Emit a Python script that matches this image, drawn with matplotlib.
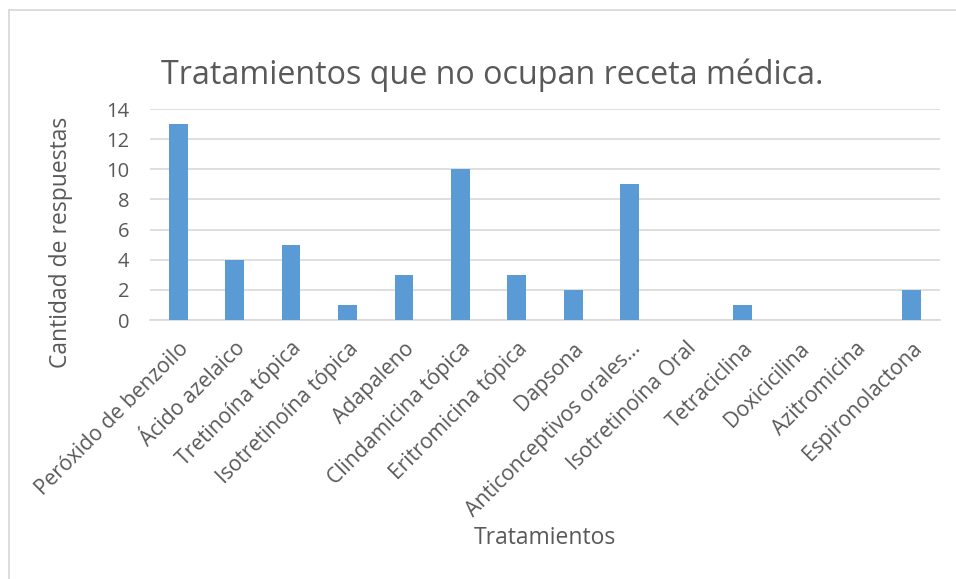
import matplotlib
matplotlib.use("Agg")
import matplotlib.pyplot as plt
from matplotlib.patches import Rectangle

categories = ["Peróxido de benzoilo", "Ácido azelaico", "Tretinoína tópica",
              "Isotretinoína tópica", "Adapaleno", "Clindamicina tópica",
              "Eritromicina tópica", "Dapsona", "Anticonceptivos orales…",
              "Isotretinoína Oral", "Tetraciclina", "Doxicicilina",
              "Azitromicina", "Espironolactona"]
values = [13, 4, 5, 1, 3, 10, 3, 2, 9, 0, 1, 0, 0, 2]
yticks = [0, 2, 4, 6, 8, 10, 12, 14]

plt.rcParams['font.family'] = ['Open Sans', 'DejaVu Sans']
txt = '#595959'
W, H = 956, 579

fig = plt.figure(figsize=(9.56, 5.79), dpi=100)
fig.patches.append(Rectangle((9 / W, -0.05), 1.1, 1 - 10 / H + 0.05, transform=fig.transFigure,
                             fill=False, edgecolor='#D9D9D9', linewidth=1.3))
ax = fig.add_axes([150 / W, 1 - 320 / H, 790 / W, 211 / H])
x = list(range(len(categories)))
ax.bar(x, values, width=0.33, color='#5B9BD5', zorder=3)
ax.set_xlim(-0.5, len(categories) - 0.5)
ax.set_ylim(0, 14)
ax.set_yticks(yticks)
ax.set_yticklabels([str(v) for v in yticks], fontsize=14.5, color=txt)
ax.set_xticks(x)
ax.set_xticklabels(categories, rotation=45, ha='right', rotation_mode='anchor',
                   fontsize=15.2, color=txt)
ax.grid(axis='y', color='#D9D9D9', linewidth=1.2, zorder=0)
for s in ['top', 'right', 'left']:
    ax.spines[s].set_visible(False)
ax.spines['bottom'].set_color('#D9D9D9')
ax.spines['bottom'].set_linewidth(1.2)
ax.tick_params(axis='y', length=0, pad=15)
ax.tick_params(axis='x', length=0, pad=13)
fig.text(61 / W, 1 - 242 / H, "Cantidad de respuestas", ha='center', va='center',
         rotation=90, fontsize=16.5, color=txt)
fig.text(492 / W, 1 - 75 / H, "Tratamientos que no ocupan receta médica.", ha='center',
         va='center', fontsize=23.2, color=txt)
fig.text(545 / W, 1 - 538 / H, "Tratamientos", ha='center', va='center', fontsize=16.5, color=txt)
fig.savefig("out.png", dpi=100)
